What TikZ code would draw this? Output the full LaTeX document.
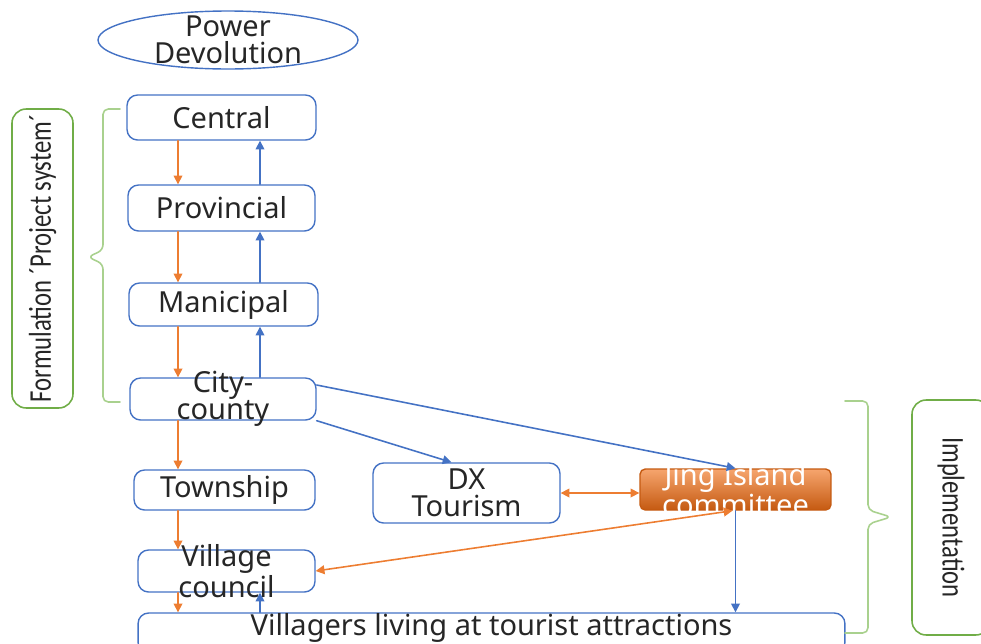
\documentclass[tikz,border=0pt]{standalone}
\usepackage{fontspec}
\setmainfont{Noto Sans}
\newfontfamily\sidefont{Carlito}
\usetikzlibrary{arrows.meta,shapes.geometric}
\definecolor{lineblue}{RGB}{68,114,196}
\definecolor{lineorange}{RGB}{237,125,49}
\definecolor{darkorange}{RGB}{197,90,17}
\definecolor{lightorange}{RGB}{246,165,110}
\definecolor{framegreen}{RGB}{112,173,71}
\definecolor{bracegreen}{RGB}{169,209,142}
\definecolor{textgray}{RGB}{38,38,38}

\begin{document}
\begin{tikzpicture}[line cap=round,line join=round,x=0.02cm,y=-0.02cm,
    >={Triangle[length=5pt,width=5pt]},
    every node/.style={font=\fontsize{16.5}{15.5}\selectfont},
    box/.style={draw=lineblue,line width=0.8pt,rounded corners=6pt,text=textgray,align=center,inner sep=0pt},
    txt/.style={text=textgray,align=center,inner sep=0pt},
    sidetxt/.style={txt,font=\sidefont\fontsize{18}{18}\selectfont},
    oarr/.style={->,lineorange,line width=0.9pt},
    barr/.style={->,lineblue,line width=0.9pt},
    gbox/.style={draw=framegreen,line width=0.9pt,rounded corners=8pt},
    brace/.style={draw=bracegreen,line width=0.9pt,rounded corners=3pt}]
      \clip (0,0) rectangle (981,643);

      % levels of government
      \node[ellipse,draw=lineblue,line width=0.8pt,minimum width=5.2cm,minimum height=1.16cm,inner sep=0pt] (power) at (228,40) {};
      \node[txt] at (power) {Power\\Devolution};
      \node[box,minimum width=3.78cm,minimum height=0.9cm] (central) at (221.5,117.5) {Central};
      \node[box,minimum width=3.74cm,minimum height=0.92cm] (prov) at (221.5,208) {Provincial};
      \node[box,minimum width=3.78cm,minimum height=0.86cm] (mani) at (223.5,304.5) {Manicipal};
      \node[box,minimum width=3.72cm,minimum height=0.84cm] (city) at (223,399) {};
      \node[txt] at (city) {City-\\county};
      \node[box,minimum width=3.62cm,minimum height=0.8cm] (town) at (224.5,490) {Township};
      \node[box,minimum width=3.54cm,minimum height=0.84cm] (council) at (226.5,571) {};
      \node[txt] at (council) {Village\\council};
      \node[box,minimum width=14.14cm,minimum height=0.8cm] (villagers) at (491.5,633) {};
      \node[txt] at (491.5,628) {Villagers living at tourist attractions};

      \node[box,minimum width=3.74cm,minimum height=1.2cm] (dx) at (466.5,493) {DX\\Tourism};
      \node[box,draw=darkorange,top color=lightorange,bottom color=darkorange,rounded corners=3pt,minimum width=3.82cm,minimum height=0.82cm] (jing) at (735.5,489.5) {};
      \node[txt,text=white] at (jing) {Jing Island\\committee};

      % side labels
      \node[gbox,minimum width=1.22cm,minimum height=5.98cm] (form) at (42.5,258.5) {};
      \node[sidetxt,rotate=90,xscale=0.78] at (form) {Formulation ´Project system´};
      \node[gbox,minimum width=1.56cm,minimum height=4.7cm] (impl) at (951,517.5) {};
      \node[sidetxt,rotate=-90,xscale=0.78] at (impl) {Implementation};

      \draw[brace] (120,109) -- (103,109) -- (103,250) -- (88,257) -- (103,264) -- (103,402) -- (120,402);
      \draw[brace] (845,401) -- (868,401) -- (868,510) -- (891,517) -- (868,524) -- (868,633) -- (845,633);

      % down and up the chain
      \coordinate (ox) at (178,0);
      \coordinate (bx) at (260,0);
      \draw[oarr] (central.south -| ox) -- (prov.north -| ox);
      \draw[oarr] (prov.south -| ox) -- (mani.north -| ox);
      \draw[oarr] (mani.south -| ox) -- (city.north -| ox);
      \draw[oarr] (city.south -| ox) -- (town.north -| ox);
      \draw[oarr] (town.south -| ox) -- (council.north -| ox);
      \draw[oarr] (council.south -| ox) -- (villagers.north -| ox);
      \draw[barr] (prov.north -| bx) -- (central.south -| bx);
      \draw[barr] (mani.north -| bx) -- (prov.south -| bx);
      \draw[barr] (city.north -| bx) -- (mani.south -| bx);
      \draw[barr] (villagers.north -| bx) -- (council.south -| bx);

      \draw[barr] ([yshift=0.28cm]city.east) -- (jing.north);
      \draw[barr] (city.south east) -- ([xshift=-0.3cm]dx.north);
      \draw[oarr,<->] (dx.east) -- (dx.east -| jing.west);
      \draw[oarr,<->] (council.east) -- ([xshift=-0.06cm]jing.south);
      \draw[barr] (jing.south) -- (jing.south |- villagers.north);
\end{tikzpicture}
\end{document}
